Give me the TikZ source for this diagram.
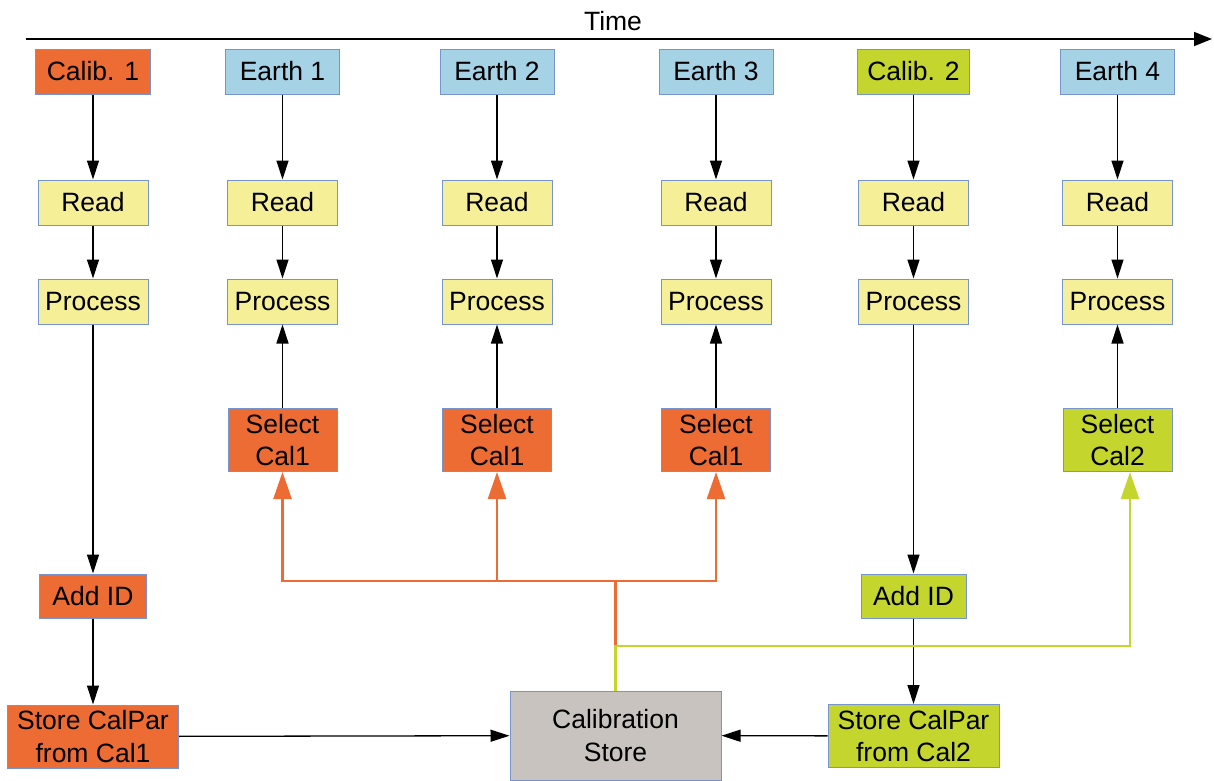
\documentclass[tikz,border=0pt]{standalone}
\usepackage{fontspec}
\setmainfont{Liberation Sans}
\usetikzlibrary{arrows.meta,shapes}
\definecolor{calorange}{RGB}{237,108,52}
\definecolor{calgreen}{RGB}{196,213,46}
\definecolor{earthblue}{RGB}{166,210,230}
\definecolor{taskyellow}{RGB}{245,240,152}
\definecolor{storegrey}{RGB}{200,195,190}
\definecolor{boxline}{RGB}{118,148,205}
\tikzstyle{box}=[draw=boxline,line width=1pt,inner sep=0pt,align=center,minimum width=110pt,minimum height=45pt,font=\fontsize{26.5}{32.5}\selectfont]
\tikzstyle{earth box}=[box,fill=earthblue,minimum width=114pt]
\tikzstyle{cal1 box}=[box,fill=calorange]
\tikzstyle{cal2 box}=[box,fill=calgreen]
\tikzstyle{task box}=[box,fill=taskyellow]
\tikzstyle{select box}=[box,minimum width=109pt,minimum height=63pt]
\tikzstyle{edge}=[draw,line width=1.3pt,-{Triangle[length=19pt,width=12pt]}]
\tikzstyle{cal1 edge}=[draw=calorange,line width=2.4pt]
\tikzstyle{cal2 edge}=[draw=calgreen,line width=2.4pt]
\tikzstyle{cal1 tip}=[-{Triangle[length=27pt,width=18pt,fill=calorange]}]
\tikzstyle{cal2 tip}=[-{Triangle[length=27pt,width=18pt,fill=calgreen]}]

\begin{document}
\begin{tikzpicture}[x=1pt,y=-1pt]
    \useasboundingbox (0,0) rectangle (1214,780);
    % Time axis
    \coordinate (t0) at (26,39);
    \coordinate (t1) at (1212,39);
    \path[edge,line width=1.5pt,-{Triangle[length=18pt,width=14pt]}] (t0) -- (t1);
    \node[font=\fontsize{26.5}{32.5}\selectfont,anchor=base] (time) at (613,30) {Time};

    % First the measurements along the top
    \foreach \pos/\name/\text in {{(93,71.5)/Top1/Calib. 1}}
        \node[cal1 box,minimum width=115pt] (\name) at \pos {\text};
    \foreach \pos/\name/\text in {{(913.5,71.5)/Top5/Calib. 2}}
        \node[cal2 box,minimum width=112pt] (\name) at \pos {\text};
    \foreach \pos/\name/\text in {{(282.5,71.5)/Top2/Earth 1}, {(497,71.5)/Top3/Earth 2}, {(716,71.5)/Top4/Earth 3}, {(1117.5,71.5)/Top6/Earth 4}}
        \node[earth box] (\name) at \pos {\text};

    % Read and process steps
    \foreach \x/\col in {93/1, 282.5/2, 497/3, 716/4, 913.5/5, 1117.5/6} {
        \node[task box] (Read\col) at (\x,202.5) {Read};
        \node[task box] (Proc\col) at (\x,301.5) {Process};
    }

    % Select the calibration
    \foreach \pos/\name/\text in {{(282.5,440)/Sel2/Select\\Cal1}, {(497,440)/Sel3/Select\\Cal1}, {(716,440)/Sel4/Select\\Cal1}}
        \node[select box,fill=calorange] (\name) at \pos {\text};
    \node[select box,fill=calgreen] (Sel6) at (1117.5,440) {Select\\Cal2};

    % Add ID and store
    \node[cal1 box,minimum width=107pt,minimum height=44pt] (Add1) at (93,596) {Add ID};
    \node[cal2 box,minimum width=105pt,minimum height=44pt] (Add5) at (913.5,596) {Add ID};
    \node[cal1 box,minimum width=171pt,minimum height=63pt] (Keep1) at (93,736.5) {Store CalPar\\from Cal1};
    \node[cal2 box,minimum width=171pt,minimum height=63pt] (Keep5) at (913.5,736) {Store CalPar\\from Cal2};
    \node[box,fill=storegrey,minimum width=211pt,minimum height=89pt] (Store) at (615.5,735.5) {Calibration\\Store};

    % Connect the steps
    \foreach \col in {1,...,6} {
        \path[edge] (Top\col) -- (Read\col);
        \path[edge] (Read\col) -- (Proc\col);
    }
    \foreach \col in {2,3,4,6}
        \path[edge] (Sel\col) -- (Proc\col);
    \foreach \col in {1,5} {
        \path[edge] (Proc\col) -- (Add\col);
        \path[edge] (Add\col) -- (Keep\col);
    }
    \path[edge] (Keep1) -- (Store);
    \path[edge] (Keep5) -- (Store);

    % Calibration buses
    \coordinate (bus1) at (615.5,581);
    \coordinate (bus2) at (615.5,646);
    \path[cal1 edge] (bus2) -- (bus1);
    \foreach \col in {2,3,4}
        \path[cal1 edge,cal1 tip] (bus1) -| (Sel\col.south);
    \path[cal2 edge,cal2 tip] (Store.north) -- (bus2) -| ([xshift=12.5pt]Sel6.south);
\end{tikzpicture}
\end{document}
